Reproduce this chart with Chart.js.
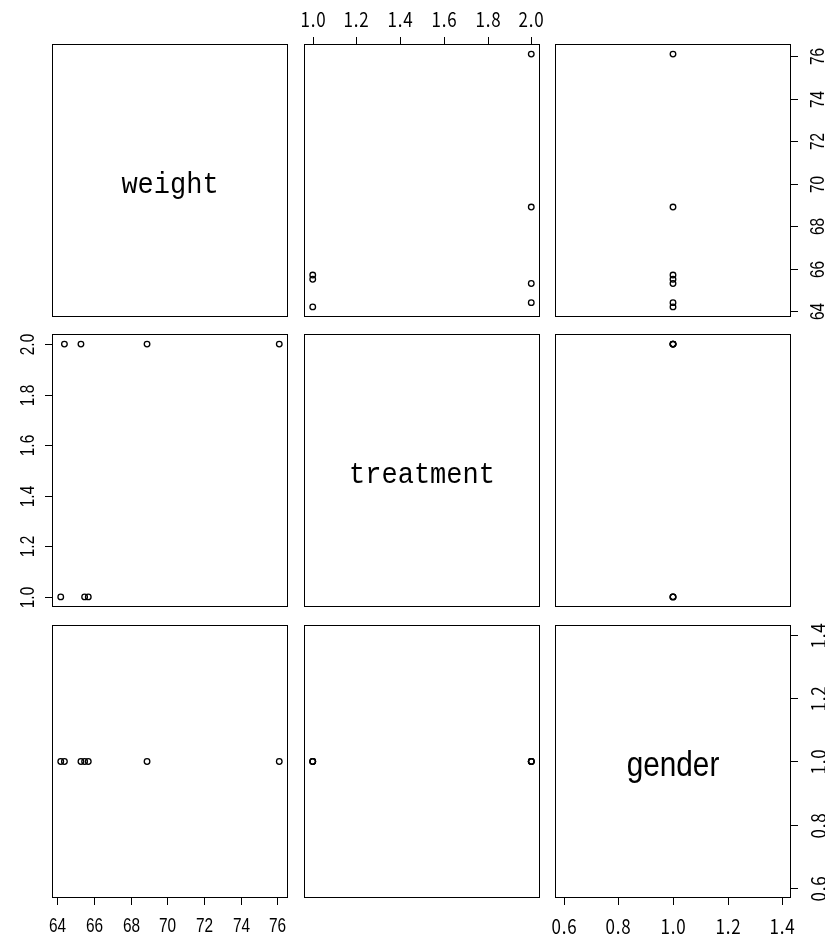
<!DOCTYPE html>
<html>
<head>
<meta charset="utf-8">
<script src="https://cdn.jsdelivr.net/npm/chart.js@4.4.0/dist/chart.umd.min.js"></script>
<style>
html, body { margin: 0; padding: 0; background: #fff; }
#wrap { position: relative; width: 825px; height: 935px; overflow: hidden; background: #fff; }
#wrap canvas { position: absolute; }
</style>
</head>
<body>
<div id="wrap"></div>
<script>
// データ
const varNames = ['weight', 'treatment', 'gender'];
const weight = [64.2, 65.5, 65.7, 64.4, 65.3, 68.9, 76.1];
const treatment = [1, 1, 1, 2, 2, 2, 2];
const gender = [1, 1, 1, 1, 1, 1, 1];
const weightTicks = [64, 66, 68, 70, 72, 74, 76];
const treatmentTicks = [1.0, 1.2, 1.4, 1.6, 1.8, 2.0];
const genderTicks = [0.6, 0.8, 1.0, 1.2, 1.4];

const columns = [weight, treatment, gender];
const tickSets = [weightTicks, treatmentTicks, genderTicks];
const tickDigits = [0, 1, 1];

// レイアウト
const panelLeft = [52, 304, 555];
const panelTop = [44, 334, 625];
const panelW = 236;
const panelH = 273;
const M = 50;

// フォント (sx = 横方向の縮み)
const narrowFont = { font: '20px "Liberation Sans", sans-serif', sx: 0.77 };
const jpFont = { font: '20px "Noto Sans CJK JP", sans-serif', sx: 0.85, spacing: '1px' };
const colAxisFont = [narrowFont, jpFont, jpFont];
const rowAxisFont = [narrowFont, narrowFont, jpFont];
const monoTitle = { font: '30px "Liberation Mono", monospace', sx: 0.9 };
const sansTitle = { font: '35px "Liberation Sans", sans-serif', sx: 0.85 };

// Rと同じ範囲 (4%広げる)
function rRange(v) {
    let lo = Math.min(...v), hi = Math.max(...v);
    if (lo === hi) { lo = lo - 0.4 * Math.abs(lo); hi = hi + 0.4 * Math.abs(hi); }
    const d = (hi - lo) * 0.04;
    return [lo - d, hi + d];
}

function drawText(ctx, f, text, x, y, rot) {
    ctx.save();
    ctx.font = f.font;
    ctx.letterSpacing = f.spacing || '0px';
    ctx.translate(x, y);
    if (rot) ctx.rotate(rot);
    ctx.scale(f.sx || 1, 1);
    ctx.fillText(text, 0, 0);
    ctx.restore();
}

const framePlugin = {
    id: 'frame',
    afterDraw(chart, args, opts) {
        const ctx = chart.ctx;
        const a = chart.chartArea;
        ctx.save();
        ctx.strokeStyle = '#000';
        ctx.lineWidth = 1;
        ctx.strokeRect(Math.round(a.left) + 0.5, Math.round(a.top) + 0.5,
            Math.round(a.right - a.left) - 1, Math.round(a.bottom - a.top) - 1);
        ctx.fillStyle = '#000';
        ctx.textAlign = 'center';
        ctx.textBaseline = 'middle';

        (opts.axes || []).forEach(ax => {
            const sc = chart.scales[ax.scale];
            ax.ticks.forEach(t => {
                const p = Math.round(sc.getPixelForValue(t)) + 0.5;
                const label = t.toFixed(ax.digits);
                ctx.beginPath();
                if (ax.side === 'bottom') {
                    ctx.moveTo(p, a.bottom); ctx.lineTo(p, a.bottom + 7); ctx.stroke();
                    drawText(ctx, ax.font, label, p, a.bottom + 28);
                } else if (ax.side === 'top') {
                    ctx.moveTo(p, a.top); ctx.lineTo(p, a.top - 7); ctx.stroke();
                    drawText(ctx, ax.font, label, p, a.top - 25);
                } else {
                    const edge = ax.side === 'left' ? a.left : a.right;
                    const dir = ax.side === 'left' ? -1 : 1;
                    ctx.moveTo(edge, p); ctx.lineTo(edge + dir * 7, p); ctx.stroke();
                    drawText(ctx, ax.font, label, edge + dir * (ax.side === 'left' ? 24 : 27), p, -Math.PI / 2);
                }
            });
        });

        if (opts.title) {
            drawText(ctx, opts.titleFont, opts.title, (a.left + a.right) / 2, (a.top + a.bottom) / 2 + 5);
        }
        ctx.restore();
    }
};

const wrap = document.getElementById('wrap');

for (let i = 0; i < 3; i++) {
    for (let j = 0; j < 3; j++) {
        const canvas = document.createElement('canvas');
        canvas.width = panelW + 2 * M;
        canvas.height = panelH + 2 * M;
        canvas.style.left = (panelLeft[j] - M) + 'px';
        canvas.style.top = (panelTop[i] - M) + 'px';
        wrap.appendChild(canvas);

        const xs = columns[j], ys = columns[i];
        const xr = rRange(xs), yr = rRange(ys);

        // 軸 (Rのpairsと同じ配置)
        const axes = [];
        if (i === 2 && j % 2 === 0) axes.push({ scale: 'x', side: 'bottom', ticks: tickSets[j], digits: tickDigits[j], font: colAxisFont[j] });
        if (i === 0 && j % 2 === 1) axes.push({ scale: 'x', side: 'top', ticks: tickSets[j], digits: tickDigits[j], font: colAxisFont[j] });
        if (j === 0 && i % 2 === 1) axes.push({ scale: 'y', side: 'left', ticks: tickSets[i], digits: tickDigits[i], font: rowAxisFont[i] });
        if (j === 2 && i % 2 === 0) axes.push({ scale: 'y', side: 'right', ticks: tickSets[i], digits: tickDigits[i], font: rowAxisFont[i] });

        const diag = i === j;
        const points = diag ? [] : xs.map((x, k) => ({ x: x, y: ys[k] }));

        new Chart(canvas, {
            type: 'scatter',
            data: {
                datasets: [{
                    data: points,
                    pointRadius: 2.8,
                    pointBorderWidth: 1.3,
                    borderColor: '#000',
                    backgroundColor: 'rgba(0,0,0,0)',
                    pointStyle: 'circle'
                }]
            },
            options: {
                responsive: false,
                animation: false,
                events: [],
                layout: { padding: M },
                scales: {
                    x: { type: 'linear', display: false, min: xr[0], max: xr[1] },
                    y: { type: 'linear', display: false, min: yr[0], max: yr[1] }
                },
                plugins: {
                    legend: { display: false },
                    tooltip: { enabled: false },
                    frame: {
                        axes: axes,
                        title: diag ? varNames[i] : null,
                        titleFont: j === 2 ? sansTitle : monoTitle
                    }
                }
            },
            plugins: [framePlugin]
        });
    }
}
</script>
</body>
</html>
